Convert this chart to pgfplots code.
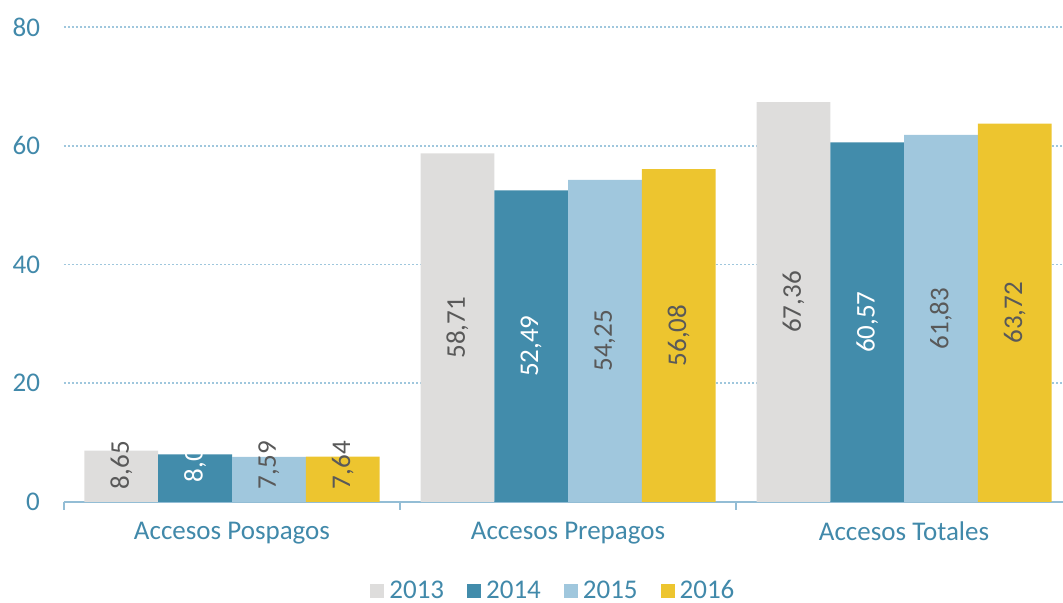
\documentclass[border=0pt]{standalone}
\usepackage{fontspec}
\setmainfont{Carlito}
\usepackage{pgfplots}
\pgfplotsset{compat=1.18}

\definecolor{c13}{HTML}{DEDDDC}
\definecolor{c14}{HTML}{428CAB}
\definecolor{c15}{HTML}{A0C7DD}
\definecolor{c16}{HTML}{EDC52F}
\definecolor{txtblue}{HTML}{4189AA}
\definecolor{gridblue}{HTML}{9FC7DD}
\definecolor{axisblue}{HTML}{93BDD5}
\definecolor{lblgray}{HTML}{595959}

\newcommand{\fs}{\fontsize{13.5pt}{16pt}\selectfont}

\pgfplotstableread{
x y l
0 8.65 8,65
1 58.71 58,71
2 67.36 67,36
}\tA
\pgfplotstableread{
x y l
0 8.01 8,0
1 52.49 52,49
2 60.57 60,57
}\tB
\pgfplotstableread{
x y l
0 7.59 7,59
1 54.25 54,25
2 61.83 61,83
}\tC
\pgfplotstableread{
x y l
0 7.64 7,64
1 56.08 56,08
2 63.72 63,72
}\tD

\begin{document}
\begin{tikzpicture}
% page = 1063x603 px at 0.5pt/px, axis box lower left at (0,0)
\useasboundingbox (-32pt,-50.5pt) rectangle (499.5pt,251pt);
\begin{axis}[
  at={(0,0)}, anchor=south west,
  scale only axis,
  width=504pt, height=237.5pt,
  xmin=-0.5, xmax=2.5, ymin=0, ymax=80,
  ybar=0pt, bar width=0.2195,
  axis x line=bottom, axis y line=left,
  x axis line style={-, color=axisblue, line width=0.8pt},
  y axis line style={draw=none},
  xtick={0,1,2},
  xticklabels={Accesos Pospagos, Accesos Prepagos, Accesos Totales},
  minor xtick={-0.5,0.5,1.5,2.5},
  major tick length=0pt, minor tick length=4pt,
  tick align=outside,
  minor tick style={color=axisblue, line width=0.8pt},
  ytick={0,20,40,60,80},
  ymajorgrids,
  grid style={gridblue, line width=0.8pt, dash pattern=on 0.8pt off 1.2pt},
  tick label style={font=\fs, text=txtblue},
  /pgf/number format/assume math mode=true,
  yticklabel style={xshift=-8.5pt},
  xticklabel style={yshift=-6.5pt},
  point meta=explicit symbolic,
  nodes near coords,
  visualization depends on={rawy \as \rawy},
  every node near coord/.append style={font=\fs, text=lblgray, anchor=center,
    yshift={-(\rawy-max(\rawy/2,6.2))*2.96875pt}, rotate=90},
  legend style={draw=none, fill=none, font=\fs, text=txtblue,
    at={(0.487,-0.187)}, anchor=center, legend columns=4, inner sep=0pt,
    nodes={inner xsep=2.5pt, inner ysep=1pt},
    /tikz/every even column/.append style={column sep=9pt}},
  legend image code/.code={\fill[#1] (0pt,-3.5pt) rectangle (7pt,3.5pt);},
]
\addplot[fill=c13, draw=none] table[x=x, y=y, meta=l] {\tA};
\addplot[fill=c14, draw=none, every node near coord/.append style={text=white}] table[x=x, y=y, meta=l] {\tB};
\addplot[fill=c15, draw=none] table[x=x, y=y, meta=l] {\tC};
\addplot[fill=c16, draw=none] table[x=x, y=y, meta=l] {\tD};
\legend{2013,2014,2015,2016}
\end{axis}
\end{tikzpicture}
\end{document}
